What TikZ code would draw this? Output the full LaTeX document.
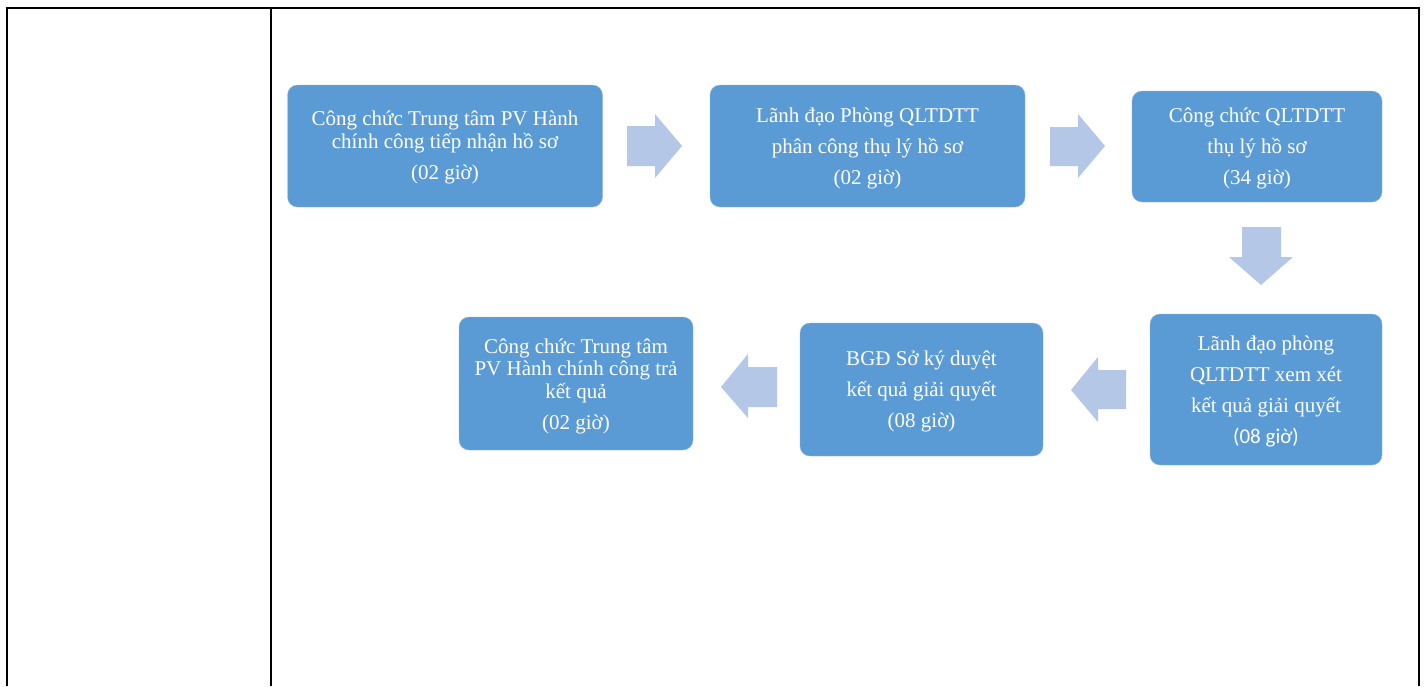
\documentclass[tikz,border=0pt]{standalone}
\usepackage{fontspec}
\setmainfont{Liberation Serif}
\newfontfamily\calfont{Carlito}
\definecolor{boxblue}{HTML}{5B9BD5}
\definecolor{arrowblue}{HTML}{B4C7E7}
\begin{document}
\begin{tikzpicture}[x=1pt,y=-1pt,
  stepbox/.style={draw=boxblue!90!black!60, line width=0.4pt, fill=boxblue, rounded corners=10pt, inner sep=0pt},
  steptext/.style={text=white, align=center, inner sep=0pt, font=\fontsize{21}{31}\selectfont},
  blockarrow/.style={fill=arrowblue, draw=none},
  tableline/.style={line width=2pt, black}]
\useasboundingbox (0,0) rectangle (1427,686);
\fill[white] (0,0) rectangle (1427,686);
% table
\draw[tableline] (6.5,686) -- (6.5,8) -- (1419,8) -- (1419,686);
\draw[tableline] (271,8) -- (271,686);
% boxes
\node[stepbox, minimum width=315pt, minimum height=122pt] (b1) at (445,146) {};
\node[stepbox, minimum width=315pt, minimum height=122pt] (b2) at (867.5,146) {};
\node[stepbox, minimum width=250pt, minimum height=111pt] (b3) at (1257,146.5) {};
\node[stepbox, minimum width=232pt, minimum height=151pt] (b4) at (1266,389.5) {};
\node[stepbox, minimum width=243pt, minimum height=133pt] (b5) at (921.5,389.5) {};
\node[stepbox, minimum width=234pt, minimum height=133pt] (b6) at (576,383.5) {};
% texts
\node[steptext] (t1) at ([yshift=-1.5pt]b1.center)
  {Công chức Trung tâm PV Hành\\[-8pt]chính công tiếp nhận hồ sơ\\(02 giờ)};
\node[steptext] (t2) at ([yshift=-2pt]b2.center)
  {Lãnh đạo Phòng QLTDTT\\phân công thụ lý hồ sơ\\(02 giờ)};
\node[steptext] (t3) at ([yshift=-1.5pt]b3.center)
  {Công chức QLTDTT\\thụ lý hồ sơ\\(34 giờ)};
\node[steptext] (t4) at ([yshift=-1.5pt]b4.center)
  {Lãnh đạo phòng\\QLTDTT xem xét\\kết quả giải quyết\\{\calfont (08 giờ)}};
\node[steptext] (t5) at ([yshift=-2pt]b5.center)
  {BGĐ Sở ký duyệt\\kết quả giải quyết\\(08 giờ)};
\node[steptext] (t6) at ([yshift=-3pt]b6.center)
  {Công chức Trung tâm\\[-9pt]PV Hành chính công trả\\[-8pt]kết quả\\(02 giờ)};
% block arrows
\fill[blockarrow] (627,126) -- (655,126) -- (655,114) -- (682,146) -- (655,178) -- (655,166) -- (627,166) -- cycle;
\fill[blockarrow] (1050,127) -- (1078,127) -- (1078,114) -- (1105,146) -- (1078,178) -- (1078,166) -- (1050,166) -- cycle;
\fill[blockarrow] (1242,227) -- (1281,227) -- (1281,257) -- (1293,257) -- (1261,285) -- (1229,257) -- (1242,257) -- cycle;
\fill[blockarrow] (1126,370) -- (1098,370) -- (1098,357) -- (1071,390) -- (1098,422) -- (1098,409) -- (1126,409) -- cycle;
\fill[blockarrow] (777,367) -- (748,367) -- (748,354) -- (721,387) -- (748,418) -- (748,407) -- (777,407) -- cycle;
\end{tikzpicture}
\end{document}
